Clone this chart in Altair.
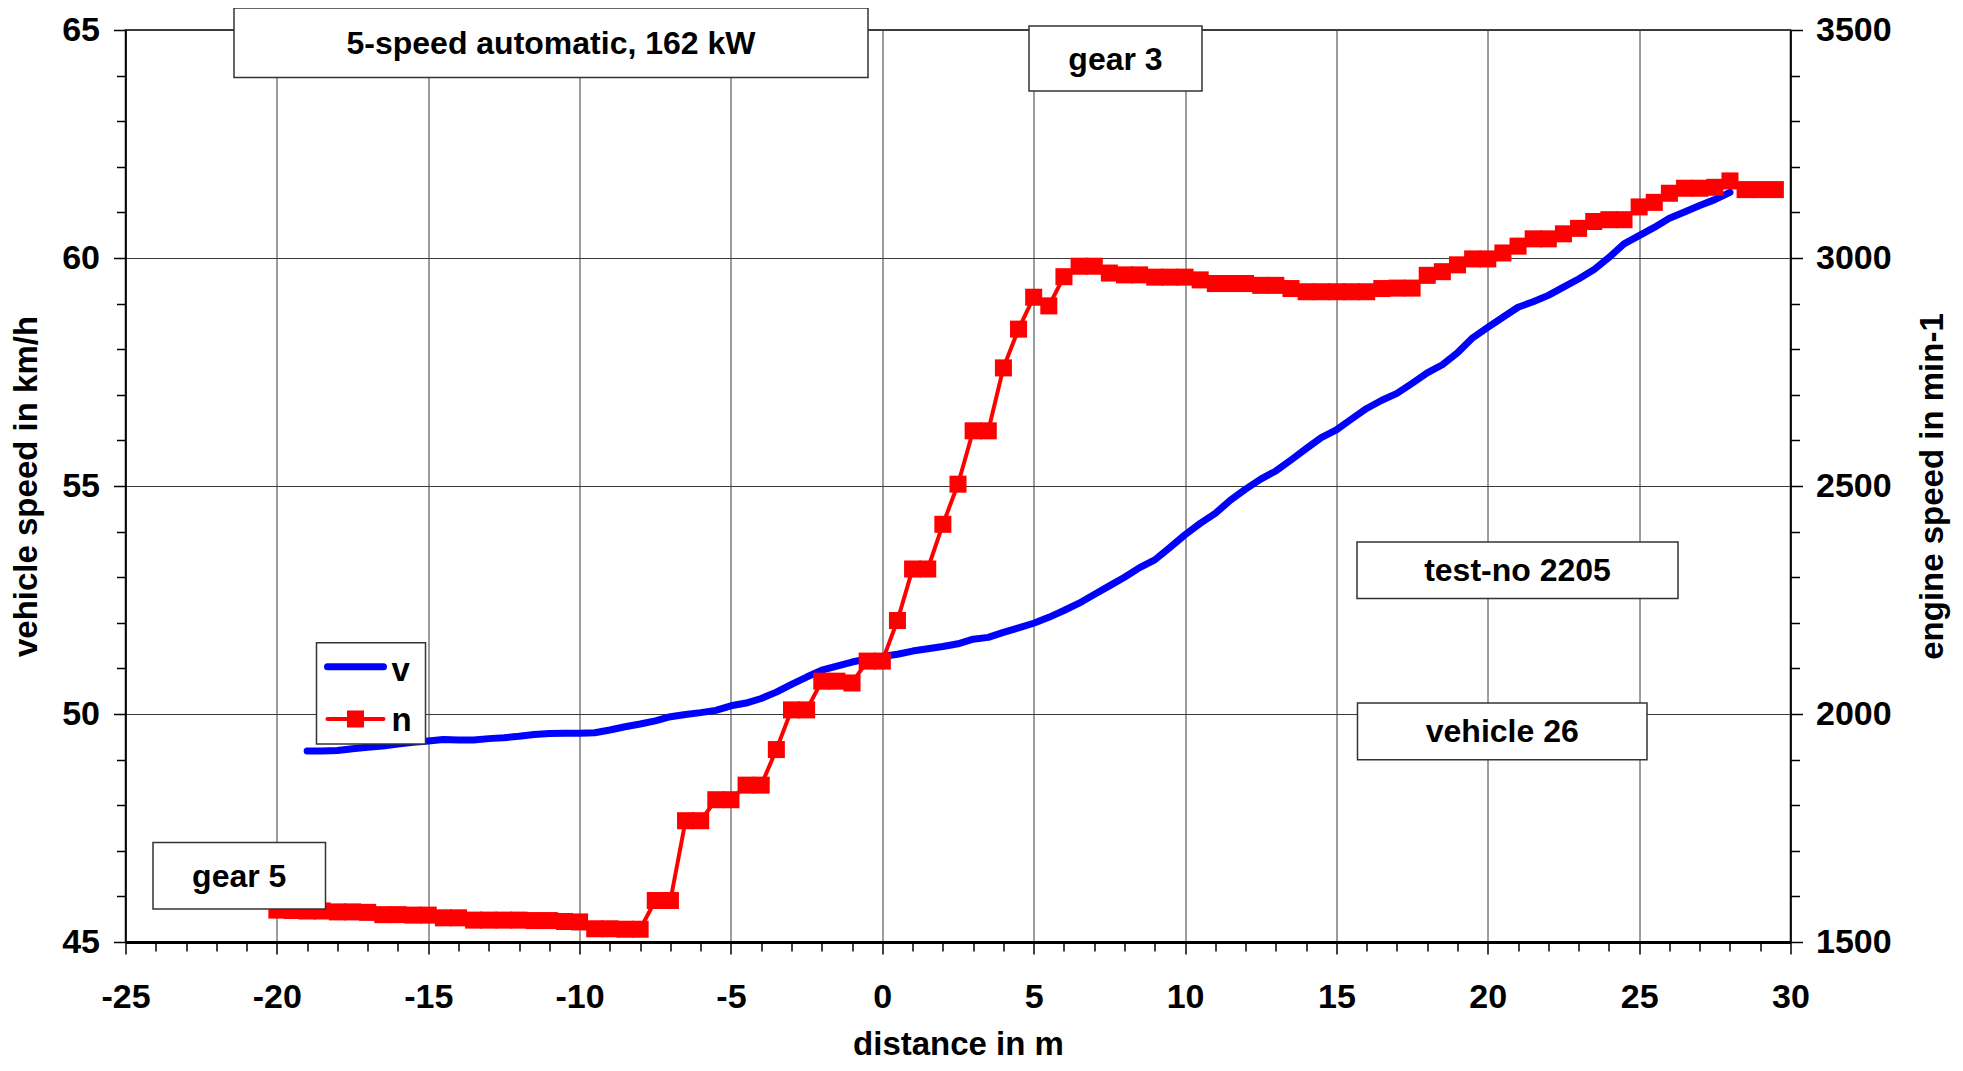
import altair as alt
import pandas as pd

# ---------------- data ----------------
# engine speed n (min-1), red squares, every 0.5 m
n_dist = [-20, -19.5, -19, -18.5, -18, -17.5, -17, -16.5, -16, -15.5,
          -15, -14.5, -14, -13.5, -13, -12.5, -12, -11.5, -11, -10.5,
          -10, -9.5, -9, -8.5, -8, -7.5, -7, -6.5, -6, -5.5,
          -5, -4.5, -4, -3.5, -3, -2.5, -2, -1.5, -1, -0.5,
          0, 0.5, 1, 1.5, 2, 2.5, 3, 3.5, 4, 4.5,
          5, 5.5, 6, 6.5, 7, 7.5, 8, 8.5, 9, 9.5,
          10, 10.5, 11, 11.5, 12, 12.5, 13, 13.5, 14, 14.5,
          15, 15.5, 16, 16.5, 17, 17.5, 18, 18.5, 19, 19.5,
          20, 20.5, 21, 21.5, 22, 22.5, 23, 23.5, 24, 24.5,
          25, 25.5, 26, 26.5, 27, 27.5, 28, 28.5, 29, 29.5]
n_rpm = [1570, 1569, 1568, 1568, 1566, 1566, 1565, 1560, 1560, 1559,
         1559, 1553, 1553, 1548, 1548, 1548, 1548, 1547, 1547, 1545,
         1544, 1529, 1529, 1528, 1528, 1591, 1591, 1766, 1766, 1812,
         1812, 1844, 1844, 1922, 2009, 2009, 2072, 2072, 2068, 2116,
         2116, 2205, 2318, 2318, 2416, 2504, 2621, 2621, 2759, 2844,
         2914, 2895, 2959, 2982, 2982, 2967, 2963, 2963, 2958, 2958,
         2958, 2952, 2944, 2944, 2944, 2940, 2940, 2933, 2926, 2926,
         2926, 2926, 2926, 2933, 2934, 2934, 2962, 2970, 2985, 2998,
         2998, 3011, 3026, 3042, 3042, 3053, 3065, 3080, 3084, 3084,
         3112, 3122, 3142, 3153, 3153, 3155, 3169, 3150, 3150, 3150]

# vehicle speed v (km/h), blue line
v_dist = [-19, -18.5, -18, -17.5, -17, -16.5, -16, -15.5, -15, -14.5,
          -14, -13.5, -13, -12.5, -12, -11.5, -11, -10.5, -10, -9.5,
          -9, -8.5, -8, -7.5, -7, -6.5, -6, -5.5, -5, -4.5,
          -4, -3.5, -3, -2.5, -2, -1.5, -1, -0.5, 0, 0.5,
          1, 1.5, 2, 2.5, 3, 3.5, 4, 4.5, 5, 5.5,
          6, 6.5, 7, 7.5, 8, 8.5, 9, 9.5, 10, 10.5,
          11, 11.5, 12, 12.5, 13, 13.5, 14, 14.5, 15, 15.5,
          16, 16.5, 17, 17.5, 18, 18.5, 19, 19.5, 20, 20.5,
          21, 21.5, 22, 22.5, 23, 23.5, 24, 24.5, 25, 25.5,
          26, 26.5, 27, 27.5, 28]
v_kmh = [49.19, 49.19, 49.20, 49.24, 49.27, 49.30, 49.34, 49.38, 49.41, 49.44,
         49.43, 49.43, 49.46, 49.48, 49.51, 49.55, 49.57, 49.58, 49.58, 49.59,
         49.65, 49.72, 49.78, 49.85, 49.94, 49.99, 50.03, 50.08, 50.18, 50.24,
         50.34, 50.48, 50.65, 50.81, 50.96, 51.05, 51.14, 51.21, 51.26, 51.31,
         51.38, 51.43, 51.48, 51.54, 51.64, 51.68, 51.79, 51.89, 51.99, 52.12,
         52.27, 52.43, 52.62, 52.81, 53.00, 53.21, 53.38, 53.65, 53.93, 54.18,
         54.40, 54.69, 54.93, 55.15, 55.33, 55.57, 55.82, 56.06, 56.23, 56.47,
         56.70, 56.88, 57.03, 57.25, 57.48, 57.66, 57.92, 58.25, 58.48, 58.70,
         58.92, 59.04, 59.18, 59.36, 59.54, 59.74, 60.01, 60.31, 60.49, 60.67,
         60.87, 61.01, 61.15, 61.28, 61.44]

x_ticks = list(range(-25, 31))
v_ticks = list(range(45, 66))
n_ticks = list(range(1500, 3501, 100))

series_names = ["v", "n"]
annotation_labels = ["5-speed automatic, 162 kW", "gear 3", "gear 5",
                     "test-no 2205", "vehicle 26"]

# ---------------- layout / style ----------------
FONT = "Liberation Sans"
W, H = 1665, 912
BLUE = "#0000FF"
RED = "#FF0000"
GRID = "#3a3a3a"

# annotation boxes in plot pixels: (x0, x1, y0, y1)
ann_boxes = [(108.5, 742.5, -22, 47.6),
             (903.5, 1076.5, -4, 61),
             (27.5, 200, 812.6, 879),
             (1231.5, 1552.5, 512, 568.5),
             (1232, 1521.5, 673, 729.7)]

dfv = pd.DataFrame({"d": v_dist, "v": v_kmh})
dfn = pd.DataFrame({"d": n_dist, "n": n_rpm})


def x_axis():
    return alt.Axis(
        values=x_ticks,
        labelExpr="datum.value % 5 === 0 ? '' + datum.value : ''",
        labelOverlap=False, labelFlush=False,
        labelFont=FONT, labelFontSize=34, labelFontWeight="bold", labelColor="black",
        labelPadding=26,
        tickSize={"condition": {"test": "datum.value % 5 === 0", "value": 12}, "value": 9},
        tickColor="black", tickWidth=1.5,
        grid=True, gridColor=GRID, gridWidth=1,
        gridOpacity={"condition": {"test": "datum.value % 5 === 0", "value": 1}, "value": 0},
        domainColor="black", domainWidth=3,
        title="distance in m", titleFont=FONT, titleFontSize=33, titleFontWeight="bold",
        titleColor="black", titleY=102, titleBaseline="middle",
    )


xenc = alt.X("d:Q", scale=alt.Scale(domain=[-25, 30], nice=False, zero=False), axis=x_axis())

blue = alt.Chart(dfv).mark_line(color=BLUE, strokeWidth=7, strokeCap="round",
                                strokeJoin="round").encode(
    x=xenc,
    y=alt.Y("v:Q", scale=alt.Scale(domain=[45, 65], nice=False, zero=False),
            axis=alt.Axis(
                values=v_ticks,
                labelExpr="datum.value % 5 === 0 ? datum.label : ''",
                labelOverlap=False, labelFlush=False,
                labelFont=FONT, labelFontSize=34, labelFontWeight="bold", labelColor="black",
                labelPadding=14,
                tickSize={"condition": {"test": "datum.value % 5 === 0", "value": 12}, "value": 9},
                tickColor="black", tickWidth=1.5,
                grid=True, gridColor=GRID, gridWidth=1,
                gridOpacity={"condition": {"test": "datum.value % 5 === 0", "value": 1}, "value": 0},
                domainColor="black", domainWidth=1.5,
                title="vehicle speed in km/h", titleFont=FONT, titleFontSize=33,
                titleFontWeight="bold", titleColor="black",
                titleX=-99, titleBaseline="middle",
            )),
)

red = alt.Chart(dfn).mark_line(
    color=RED, strokeWidth=4,
    point=alt.OverlayMarkDef(shape="square", size=290, filled=True, color=RED, opacity=1),
).encode(
    x=xenc,
    y=alt.Y("n:Q", scale=alt.Scale(domain=[1500, 3500], nice=False, zero=False),
            axis=alt.Axis(
                orient="right",
                values=n_ticks,
                labelExpr="datum.value % 500 === 0 ? datum.label : ''",
                format="d",
                labelOverlap=False, labelFlush=False,
                labelFont=FONT, labelFontSize=34, labelFontWeight="bold", labelColor="black",
                labelPadding=13,
                tickSize={"condition": {"test": "datum.value % 500 === 0", "value": 12}, "value": 9},
                tickColor="black", tickWidth=1.5,
                grid=False,
                domainColor="black", domainWidth=1.5,
                title="engine speed in min-1", titleFont=FONT, titleFontSize=33,
                titleFontWeight="bold", titleColor="black",
                titleAngle=270, titleX=142, titleBaseline="middle",
            )),
)

one = pd.DataFrame({"a": [0]})

# legend (drawn by hand, like the original's boxed legend)
leg_box = alt.Chart(one).mark_rect(fill="white", stroke="#333333", strokeWidth=1.5).encode(
    x=alt.value(191), x2=alt.value(300), y=alt.value(612.7), y2=alt.value(714))
leg_blue = alt.Chart(one).mark_rule(color=BLUE, strokeWidth=7, strokeCap="round").encode(
    x=alt.value(202), x2=alt.value(258), y=alt.value(636.7))
leg_red = alt.Chart(one).mark_rule(color=RED, strokeWidth=4, strokeCap="round").encode(
    x=alt.value(202), x2=alt.value(258), y=alt.value(689))
leg_sq = alt.Chart(one).mark_point(shape="square", size=290, filled=True, color=RED,
                                   opacity=1).encode(x=alt.value(230), y=alt.value(689))
leg_txt = [
    alt.Chart(pd.DataFrame({"t": [series_names[0]]})).mark_text(
        font=FONT, fontSize=33, fontWeight="bold", color="black", align="left",
        baseline="alphabetic").encode(x=alt.value(266), y=alt.value(651), text="t:N"),
    alt.Chart(pd.DataFrame({"t": [series_names[1]]})).mark_text(
        font=FONT, fontSize=33, fontWeight="bold", color="black", align="left",
        baseline="alphabetic").encode(x=alt.value(266), y=alt.value(701), text="t:N"),
]

ann_layers = []
for label, (x0, x1, y0, y1) in zip(annotation_labels, ann_boxes):
    ann_layers.append(alt.Chart(one).mark_rect(fill="white", stroke="#333333",
                                               strokeWidth=1.5).encode(
        x=alt.value(x0), x2=alt.value(x1), y=alt.value(y0), y2=alt.value(y1)))
    ann_layers.append(alt.Chart(pd.DataFrame({"t": [label]})).mark_text(
        font=FONT, fontSize=32, fontWeight="bold", color="black", align="center",
        baseline="middle").encode(x=alt.value((x0 + x1) / 2), y=alt.value((y0 + y1) / 2 + 1),
                                   text="t:N"))

chart = alt.layer(blue, red, leg_box, leg_blue, leg_red, leg_sq, *leg_txt, *ann_layers).resolve_scale(
    y="independent"
).properties(
    width=W, height=H,
    autosize=alt.AutoSizeParams(type="none"),
    padding={"left": 117.5, "top": 22, "right": 160, "bottom": 120},
    background="white",
).configure_view(stroke="black", strokeWidth=1.5)

chart.save("out.html", embed_options={"renderer": "svg", "actions": False})
